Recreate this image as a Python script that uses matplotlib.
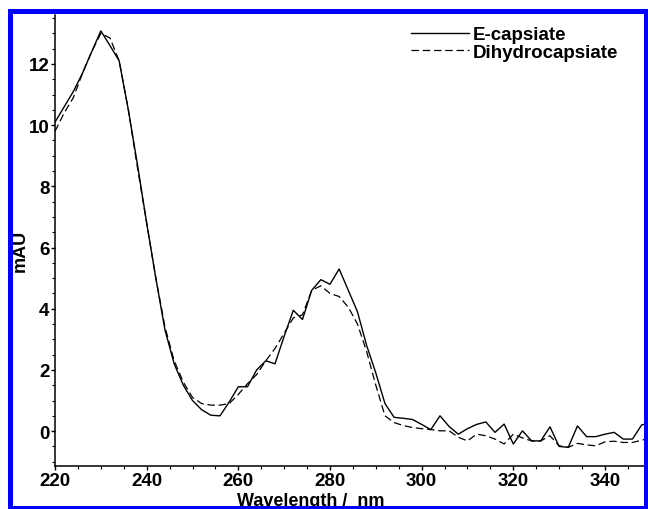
"""UV spectra of E-capsiate and dihydrocapsiate (absorbance vs wavelength)."""

import matplotlib
matplotlib.use("Agg")
import matplotlib.pyplot as plt
from matplotlib.patches import Rectangle
from matplotlib.ticker import MultipleLocator

# --- data (2 nm steps) ---
wavelength = list(range(220, 351, 2))

e_capsiate = [
    10.1, 10.6, 11.1, 11.7, 12.4, 13.08, 12.6, 12.1, 10.5, 8.7,
    6.8, 5.0, 3.3, 2.2, 1.5, 1.0, 0.7, 0.52, 0.5, 0.95,
    1.45, 1.45, 2.0, 2.3, 2.2, 3.1, 3.95, 3.65, 4.6, 4.95,
    4.8, 5.3, 4.6, 3.9, 2.8, 1.9, 0.9, 0.45, 0.42, 0.38,
    0.22, 0.05, 0.5, 0.15, -0.1, 0.08, 0.22, 0.3, -0.04, 0.23,
    -0.42, 0.01, -0.32, -0.32, 0.14, -0.5, -0.53, 0.17, -0.18, -0.18,
    -0.1, -0.04, -0.26, -0.26, 0.2, 0.28,
]

dihydrocapsiate = [
    9.8, 10.4, 10.9, 11.7, 12.4, 13.0, 12.85, 12.1, 10.5, 8.6,
    6.8, 5.0, 3.4, 2.3, 1.6, 1.1, 0.9, 0.85, 0.85, 0.9,
    1.2, 1.55, 1.85, 2.3, 2.7, 3.2, 3.7, 3.8, 4.6, 4.75,
    4.5, 4.4, 4.05, 3.5, 2.6, 1.5, 0.5, 0.28, 0.18, 0.12,
    0.08, 0.05, 0.01, 0.01, -0.2, -0.32, -0.1, -0.15, -0.26, -0.42,
    -0.1, -0.22, -0.32, -0.32, -0.15, -0.48, -0.53, -0.4, -0.45, -0.48,
    -0.35, -0.33, -0.37, -0.37, -0.3, -0.21,
]

x_ticks = [220, 240, 260, 280, 300, 320, 340]
y_ticks = [0, 2, 4, 6, 8, 10, 12]

plt.rcParams["font.family"] = ["Liberation Sans", "DejaVu Sans"]
plt.rcParams["font.weight"] = "bold"

fig = plt.figure(figsize=(6.48, 5.10), dpi=100)
ax = fig.add_axes([0.0849, 0.0843, 0.9194, 0.8843])

ax.plot(wavelength, e_capsiate, color="black", linewidth=1.0,
        linestyle="-", label="E-capsiate")
ax.plot(wavelength, dihydrocapsiate, color="black", linewidth=0.9,
        linestyle=(0, (6, 3)), label="Dihydrocapsiate")

ax.set_xlim(220, 350)
ax.set_ylim(-1.14, 13.6)
ax.set_xticks(x_ticks)
ax.set_yticks(y_ticks)
ax.xaxis.set_minor_locator(MultipleLocator(5))
ax.yaxis.set_minor_locator(MultipleLocator(0.5))

for side in ("top", "right"):
    ax.spines[side].set_visible(False)
for side in ("left", "bottom"):
    ax.spines[side].set_linewidth(1.1)

ax.tick_params(axis="both", which="major", direction="out", length=3,
               width=1.0, pad=1, labelsize=13.5)
ax.tick_params(axis="both", which="minor", direction="out", length=2,
               width=0.8)
for lbl in ax.get_xticklabels() + ax.get_yticklabels():
    lbl.set_fontweight("bold")

ax.set_xlabel("Wavelength /  nm", fontsize=13, fontweight="bold")
ax.xaxis.set_label_coords(0.43, -0.058)
ax.set_ylabel("mAU", fontsize=13, fontweight="bold")
ax.yaxis.set_label_coords(-0.044, 0.479)

leg = ax.legend(loc="upper left", bbox_to_anchor=(0.578, 1.0),
                frameon=False, fontsize=13.5, handlelength=3.1,
                handletextpad=0.2, labelspacing=0.0, borderaxespad=0.2)
for txt in leg.get_texts():
    txt.set_fontweight("bold")

# blue frame around the whole figure
fig.patches.append(Rectangle(
    (0.0162, 0.0029), 0.9807, 0.9726, transform=fig.transFigure,
    fill=False, edgecolor="#0000FF", linewidth=3.6, zorder=10,
))

fig.savefig("out.png", dpi=100)
